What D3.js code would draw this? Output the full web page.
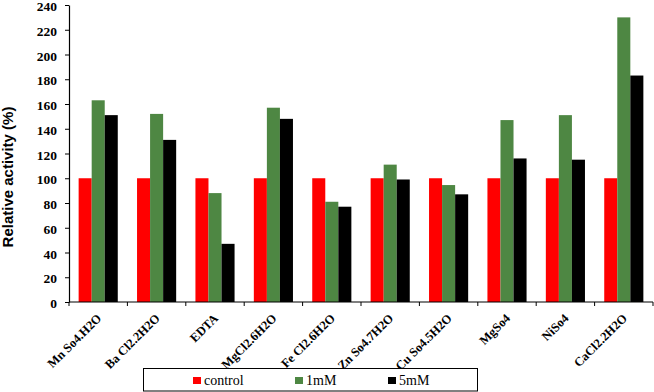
<!DOCTYPE html>
<html><head><meta charset="utf-8">
<script src="https://cdn.jsdelivr.net/npm/d3@7"></script>
<style>body{margin:0;background:#fff}svg{display:block}</style>
</head><body>
<svg id="chart" width="654" height="392"></svg>
<script>
const categories = ["Mn So4.H2O","Ba Cl2.2H2O","EDTA","MgCl2.6H2O","Fe Cl2.6H2O","Zn So4.7H2O","Cu So4.5H2O","MgSo4","NiSo4","CaCl2.2H2O"];
const seriesNames = ["control","1mM","5mM"];
const control = [100,100,100,100,100,100,100,100,100,100];
const mM1 = [163,152,88,157,81,111,94.5,147,151,230];
const mM5 = [151,131,47,148,77,99,87,116,115,183];
const yTicks = [0,20,40,60,80,100,120,140,160,180,200,220,240];
const colors = ["#ff0000","#4e8743","#000000"];

const svg = d3.select("#chart");
const L = 69, R = 653, T = 5, B = 302;
const serif = "'Liberation Serif','Times New Roman',serif";

const y = d3.scaleLinear().domain([0,240]).range([B,T]);
const x0 = d3.scaleBand().domain(categories).range([L,R]).paddingInner(0.33).paddingOuter(0.165);
const x1 = d3.scaleBand().domain(seriesNames).range([0,x0.bandwidth()]);
const data = [control, mM1, mM5];

// bars
const g = svg.append("g");
categories.forEach((c,i)=>{
  seriesNames.forEach((s,j)=>{
    g.append("rect")
      .attr("x", x0(c)+x1(s))
      .attr("y", y(data[j][i]))
      .attr("width", x1.bandwidth())
      .attr("height", y(0)-y(data[j][i]))
      .attr("fill", colors[j]);
  });
});

// y axis
const ya = svg.append("g").attr("transform",`translate(${L},0)`)
  .call(d3.axisLeft(y).tickValues(yTicks).tickSize(4).tickPadding(8).tickSizeOuter(0));
ya.select(".domain").attr("stroke","#000").attr("stroke-width",1.2);
ya.selectAll(".tick line").attr("stroke","#000");
ya.selectAll("text").attr("font-family",serif).attr("font-weight","bold").attr("font-size","13.5px")
  .attr("fill","#000").attr("dy","0.42em");

// x axis line
svg.append("line").attr("x1",L).attr("x2",R).attr("y1",B).attr("y2",B).attr("stroke","#000").attr("stroke-width",1.2);
const step = x0.step();
const bounds = categories.map(c=>x0(c)-step*x0.paddingInner()/2).concat([R]);
svg.append("g").selectAll("line").data(bounds).join("line")
  .attr("x1",d=>d).attr("x2",d=>d).attr("y1",B).attr("y2",B+4).attr("stroke","#000");

// x labels
svg.append("g").selectAll("text").data(categories).join("text")
  .attr("transform",d=>`translate(${x0(d)+x0.bandwidth()/2+4},${B+17}) rotate(-45)`)
  .attr("text-anchor","end")
  .attr("font-family",serif).attr("font-weight","bold").attr("font-size","12.5px")
  .text(d=>d);

// y title
svg.append("text").attr("transform",`translate(13,177) rotate(-90)`)
  .attr("text-anchor","middle")
  .attr("font-family","'Liberation Sans',Arial,sans-serif").attr("font-weight","bold").attr("font-size","15px")
  .text("Relative activity (%)");

// legend
svg.append("rect").attr("x",143.5).attr("y",368.5).attr("width",334).attr("height",22.5)
  .attr("fill","#fff").attr("stroke","#000").attr("stroke-width",1);
const lx = [193,295,388];
seriesNames.forEach((s,j)=>{
  svg.append("rect").attr("x",lx[j]).attr("y",377).attr("width",8).attr("height",7).attr("fill",colors[j]);
  svg.append("text").attr("x",lx[j]+11).attr("y",385).attr("font-family",serif).attr("font-size","14px").text(s);
});
</script>
</body></html>
